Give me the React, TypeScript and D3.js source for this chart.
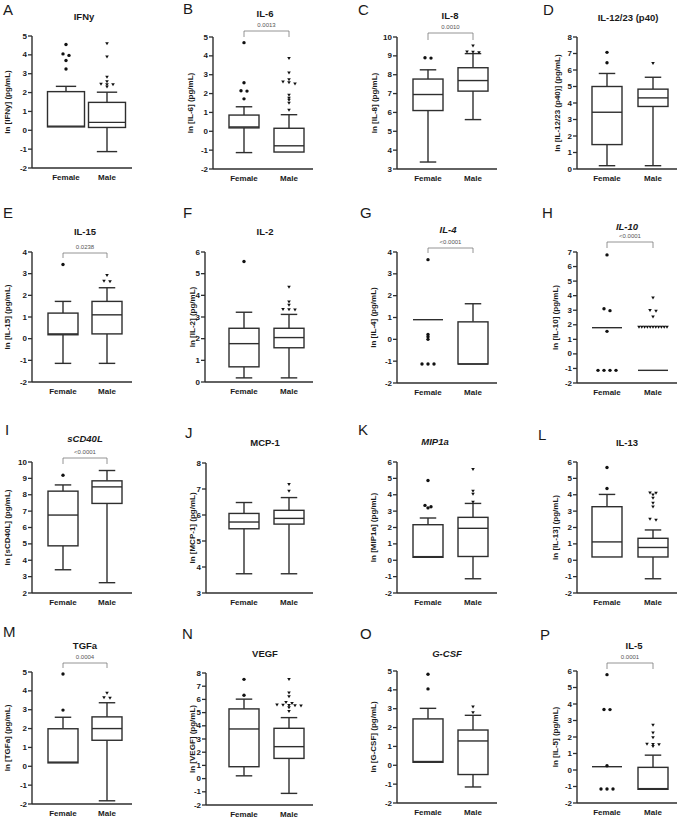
import React from "react";
import * as d3 from "d3";

// ---------------- data ----------------
const categories = ["Female", "Male"];
const panelLetters = ["A","B","C","D","E","F","G","H","I","J","K","L","M","N","O","P"];
const panelTitles = ["IFNy","IL-6","IL-8","IL-12/23 (p40)","IL-15","IL-2","IL-4","IL-10","sCD40L","MCP-1","MIP1a","IL-13","TGFa","VEGF","G-CSF","IL-5"];
const italicTitle = [false,false,false,false,false,false,true,true,true,false,true,false,false,false,true,false];
const yDomains = [[-2,5],[-2,5],[3,10],[0,8],[-2,4],[0,6],[-2,4],[-2,7],[2,10],[3,8],[-2,6],[-2,6],[-2,5],[-2,8],[-2,5],[-2,6]];
const pValues = ["","0.0013","0.0010","","0.0238","","<0.0001","<0.0001","<0.0001","","","","0.0004","","","0.0001"];

// [whisker low, Q1, median, Q3, whisker high]
const femaleStats = [
  [0.2,0.18,0.22,2.05,2.33],
  [-1.13,0.18,0.23,0.86,1.3],
  [3.37,6.1,6.95,7.77,8.26],
  [0.2,1.48,3.44,5.0,5.79],
  [-1.14,0.18,0.22,1.18,1.72],
  [0.19,0.7,1.77,2.48,3.22],
  [0.9,0.9,0.9,0.9,0.9],
  [1.8,1.8,1.8,1.8,1.8],
  [3.42,4.88,6.76,8.22,8.6],
  [3.74,5.47,5.73,6.06,6.48],
  [0.2,0.18,0.22,2.17,2.58],
  [0.2,0.2,1.12,3.27,4.02],
  [0.2,0.18,0.22,1.99,2.6],
  [0.21,0.9,3.76,5.28,6.02],
  [0.18,0.16,0.2,2.46,3.02],
  [0.2,0.2,0.2,0.2,0.2],
];
const maleStats = [
  [-1.13,0.15,0.42,1.48,2.02],
  [-1.1,-1.1,-0.77,0.16,0.88],
  [5.62,7.13,7.69,8.37,9.12],
  [0.2,3.79,4.31,4.84,5.56],
  [-1.14,0.22,1.1,1.72,2.35],
  [0.19,1.58,2.05,2.48,3.12],
  [-1.13,-1.13,-1.13,0.8,1.63],
  [-1.13,-1.13,-1.13,-1.13,-1.13],
  [2.63,7.47,8.48,8.85,9.48],
  [3.74,5.65,5.87,6.18,6.67],
  [-1.13,0.23,1.95,2.62,3.47],
  [-1.13,0.2,0.78,1.34,1.85],
  [-1.83,1.38,2.0,2.62,3.37],
  [-1.12,1.53,2.42,3.81,4.62],
  [-1.15,-0.49,1.29,1.87,2.65],
  [-1.15,-1.17,-1.13,0.16,0.9],
];
const femaleOutliers = [
  [4.55,4.05,3.97,3.7,3.25],
  [4.7,2.57,2.15,2.13,1.72],
  [8.9,8.88],
  [7.07,6.44],
  [3.42],
  [5.56],
  [3.65,0.22,0.12,0.0,-1.13,-1.13,-1.13],
  [6.8,3.1,2.97,1.55,-1.13,-1.13,-1.13,-1.13],
  [9.19],
  [],
  [4.87,3.35,3.27,3.2],
  [5.66,4.38],
  [4.89,2.98],
  [7.52,6.32],
  [4.83,4.05],
  [5.78,3.67,3.66,0.26,-1.15,-1.15,-1.15],
];
const maleOutliers = [
  [4.6,3.9,2.82,2.58,2.45,2.43,2.42,2.3],
  [3.87,3.1,2.75,2.62,2.58,2.52,1.92,1.76,1.65,1.5,1.13],
  [9.53,9.22,9.2,9.18],
  [6.4],
  [2.93,2.66,2.64],
  [4.38,3.7,3.55,3.35,3.34,3.33],
  [],
  [3.85,3.0,2.95,2.55,1.85,1.85,1.85,1.85,1.85,1.85,1.85,1.85,1.85,1.85,1.85],
  [],
  [7.18,6.92],
  [5.55,4.22,4.05,3.56],
  [4.12,4.1,3.99,3.8,3.5,3.26,2.52,2.45],
  [3.88,3.65,3.62],
  [7.52,6.5,6.22,5.78,5.7,5.6,5.58,5.56,5.54,5.52,5.38,5.1],
  [3.1,2.8],
  [2.72,2.26,1.96,1.57,1.56,1.55,1.43],
];

// ---------------- layout ----------------
const W = 685, H = 819;
const colCenters = [[63,107],[244,289],[428,473],[607,653]];
const xAxisEnd = [132,313,497,677];
const axisX = [32,213,397,577, 32,205,397,577, 32,206,397,577, 32,206,397,577];
const plotTop = [36,37,37,37, 252,252,252,252, 462,463,462,462, 672,673,671,671];
const plotBottom = [168,169,169,169, 382,382,383,383, 593,593,593,593, 804,805,803,803];
const letterX = [3,183,358,543, 3,183,360,542, 5,185,358,538, 3,182,360,540];
const letterY = [15,14,15,15, 218,218,218,218, 435,438,435,440, 637,639,639,640];
const titleX = [84,265,450,628, 85,265,448,627, 85,265,435,627, 85,265,447,634];
const titleY = [20,17,19,21, 235,235,233,230, 442,446,445,446, 649,657,657,649];
const axisTitleX = [7,190,374,557, 7,192,373,555, 7,192,373,555, 7,192,373,555];
const bracketY = [0,31,33,0, 253,0,248,242, 458,0,0,0, 663,0,0,663];
const bracketEnd = [0,37,40,0, 258,0,253,248, 464,0,0,0, 668,0,0,669];

const LINE = "#2e2e2e";
const TEXT = "#1a1a1a";
const FONT = "'Liberation Sans', Arial, sans-serif";

function placeOutliers(vals: number[], y: (v: number) => number, cx: number) {
  const pts = vals.map(v => ({ v, py: y(v) })).sort((a, b) => a.py - b.py);
  const clusters: { v: number; py: number }[][] = [];
  let cur: { v: number; py: number }[] = [];
  for (const p of pts) {
    if (cur.length && p.py - cur[0].py > 2) { clusters.push(cur); cur = []; }
    cur.push(p);
  }
  if (cur.length) clusters.push(cur);
  const out: { x: number; y: number }[] = [];
  for (const c of clusters) {
    const n = c.length;
    const s = n >= 10 ? 2.8 : 6;
    c.forEach((p, i) => out.push({ x: cx + (i - (n - 1) / 2) * s, y: p.py }));
  }
  return out;
}

function Panel({ i }: { i: number }) {
  const col = i % 4;
  const [d0, d1] = yDomains[i];
  const y = d3.scaleLinear().domain([d0, d1]).range([plotBottom[i], plotTop[i]]);
  const centers = i === 0 ? [66, 107] : colCenters[col];
  const bw = i === 0 ? 37 : 30;
  const x = d3.scalePoint<string>().domain(categories).range(centers as [number, number]);
  const ticks = d3.range(d0, d1 + 1);
  const x0 = axisX[i];
  const xe = xAxisEnd[col];
  const stats = [femaleStats[i], maleStats[i]];
  const outs = [femaleOutliers[i], maleOutliers[i]];
  const capW = bw * 0.55;

  return (
    <g>
      <text x={letterX[i]} y={letterY[i]} fontSize={15} fontFamily={FONT} fill={TEXT}>{panelLetters[i]}</text>
      <text x={titleX[i]} y={titleY[i]} fontSize={9.5} fontWeight="bold" fontStyle={italicTitle[i] ? "italic" : "normal"} textAnchor="middle" fontFamily={FONT} fill={TEXT}>{panelTitles[i]}</text>
      <text transform={`translate(${axisTitleX[i]},${(plotTop[i] + plotBottom[i]) / 2}) rotate(-90)`} fontSize={8} fontWeight="bold" textAnchor="middle" dominantBaseline="central" fontFamily={FONT} fill={TEXT}>{`ln [${panelTitles[i]}] (pg/mL)`}</text>
      {/* y axis */}
      <line x1={x0} x2={x0} y1={y(d1)} y2={y(d0)} stroke={LINE} strokeWidth={1.4} />
      {ticks.map(t => (
        <g key={t}>
          <line x1={x0 - 4} x2={x0} y1={y(t)} y2={y(t)} stroke={LINE} strokeWidth={1.3} />
          <text x={x0 - 5} y={y(t)} fontSize={8} fontWeight="bold" textAnchor="end" dominantBaseline="central" fontFamily={FONT} fill={TEXT}>{t}</text>
        </g>
      ))}
      {/* x axis */}
      <line x1={x0} x2={xe} y1={y(d0)} y2={y(d0)} stroke={LINE} strokeWidth={1.4} />
      {categories.map(c => (
        <text key={c} x={x(c)!} y={y(d0) + 12} fontSize={8} fontWeight="bold" textAnchor="middle" fontFamily={FONT} fill={TEXT}>{c}</text>
      ))}
      {/* boxes */}
      {categories.map((c, k) => {
        const cx = x(c)!;
        const [lo, q1, med, q3, hi] = stats[k];
        const collapsed = q1 === q3;
        return (
          <g key={c} stroke={LINE} strokeWidth={1.4} fill="none">
            {hi > q3 && <line x1={cx} x2={cx} y1={y(hi)} y2={y(q3)} />}
            {hi > q3 && <line x1={cx - capW / 2} x2={cx + capW / 2} y1={y(hi)} y2={y(hi)} />}
            {lo < q1 && <line x1={cx} x2={cx} y1={y(q1)} y2={y(lo)} />}
            {lo < q1 && <line x1={cx - capW / 2} x2={cx + capW / 2} y1={y(lo)} y2={y(lo)} />}
            {!collapsed && <rect x={cx - bw / 2} y={y(q3)} width={bw} height={y(q1) - y(q3)} fill="white" />}
            <line x1={cx - bw / 2} x2={cx + bw / 2} y1={y(med)} y2={y(med)} />
          </g>
        );
      })}
      {/* outliers */}
      {categories.map((c, k) => {
        const pts = placeOutliers(outs[k], y, x(c)!);
        return (
          <g key={c} fill="#111">
            {pts.map((p, j) =>
              k === 0 ? (
                <circle key={j} cx={p.x} cy={p.y} r={1.7} />
              ) : (
                <path key={j} d={`M${p.x - 1.8},${p.y - 1.3}L${p.x + 1.8},${p.y - 1.3}L${p.x},${p.y + 1.7}Z`} />
              )
            )}
          </g>
        );
      })}
      {/* significance bracket */}
      {pValues[i] && (
        <g>
          <path d={`M${x("Female")},${bracketEnd[i]}V${bracketY[i]}H${x("Male")}V${bracketEnd[i]}`} stroke="#7a7a7a" strokeWidth={0.8} fill="none" />
          <text x={(x("Female")! + x("Male")!) / 2} y={bracketY[i] - 4.5} fontSize={6} textAnchor="middle" fontFamily={FONT} fill="#555">{pValues[i]}</text>
        </g>
      )}
    </g>
  );
}

export default function App() {
  return (
    <svg width={W} height={H} style={{ position: "absolute", left: 0, top: 0, background: "white" }}>
      <rect width={W} height={H} fill="white" />
      {panelLetters.map((_, i) => <Panel key={i} i={i} />)}
    </svg>
  );
}
